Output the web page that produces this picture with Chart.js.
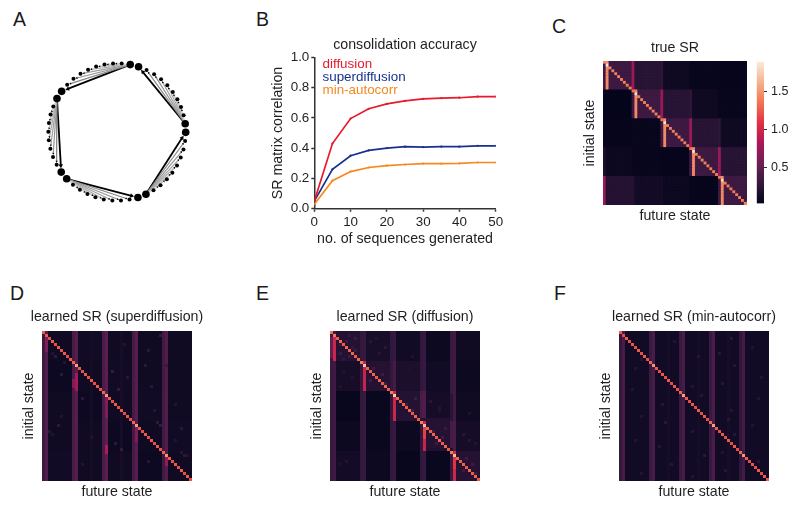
<!DOCTYPE html>
<html><head><meta charset="utf-8">
<script src="https://cdn.jsdelivr.net/npm/chart.js@4"></script>
<style>
html,body{margin:0;padding:0;background:#fff;width:800px;height:509px;overflow:hidden}
canvas{position:absolute;filter:blur(0.4px)}
.letter{position:absolute;font:19.5px "Liberation Sans",Arial,sans-serif;color:#1a1a1a;line-height:20px}
</style></head><body>
<script>
// ---------- data ----------
const panelLetters = ['A','B','C','D','E','F'];
const letterX = [13,256,552,10,256,554];
const letterY = [9,9,16,283,283,283];

// panel A: ring of 50 states (angle in degrees, counter-clockwise from east)
const nodeAngles = [-0.3,6.9,14.1,21.3,28.5,35.7,42.9,50.1,57.3,64.5,71.7,78.9,86.1,93.3,100.5,107.7,114.9,122.1,129.3,136.5,143.7,150.9,158.1,165.3,172.5,179.7,186.9,194.1,201.3,208.5,215.7,222.9,230.1,237.3,244.5,251.7,258.9,266.1,273.3,280.5,287.7,294.9,302.1,309.3,316.5,323.7,330.9,338.1,345.3,352.5];
const hubNodes = [0,1,10,11,20,21,30,31,40,41];
const edgeFrom = [1,1,1,1,1,1,1,1, 11,11,11,11,11,11,11,11, 21,21,21,21,21,21,21,21, 31,31,31,31,31,31,31,31, 41,41,41,41,41,41,41,41];
const edgeTo   = [3,4,5,6,7,8,9,10, 13,14,15,16,17,18,19,20, 23,24,25,26,27,28,29,30, 33,34,35,36,37,38,39,40, 43,44,45,46,47,48,49,0];
const edgeGrey = [215,200,185,170,160,150,135,0, 215,200,185,170,160,150,135,0, 215,200,185,170,160,150,135,0, 215,200,185,170,160,150,135,0, 215,200,185,170,160,150,135,0];

// panel B
const seqCounts = [0,5,10,15,20,25,30,35,40,45,50];
const diffusionAcc = [0.05,0.43,0.595,0.66,0.692,0.712,0.725,0.73,0.733,0.74,0.74];
const superdiffusionAcc = [0.05,0.26,0.35,0.385,0.4,0.41,0.407,0.41,0.41,0.415,0.415];
const minAutocorrAcc = [0.03,0.185,0.245,0.272,0.285,0.292,0.298,0.298,0.3,0.305,0.305];
const seriesNames = ['diffusion','superdiffusion','min-autocorr'];
const seriesColors = ['#e8192c','#17318f','#f7871e'];
const yTicksB = [0,0.2,0.4,0.6,0.8,1.0];
const colorbarTicks = [0.5,1.0,1.5];

// heatmaps: 5x5 module levels, then [row0,row1,col0,col1,value] patches, diagonal, then [row,col,value] spots
const trueBlocks = [[.33,.22,.09,.05,.04],[.03,.33,.22,.09,.05],[.04,.05,.33,.22,.09],[.07,.05,.04,.33,.22],[.2,.11,.07,.04,.33]];
const truePatches = [[0,9,10,10,.75],[10,19,20,20,.75],[20,29,30,30,.75],[30,39,40,40,.75],[40,49,0,0,.75],
 [0,9,20,20,.25],[10,19,30,30,.25],[20,29,40,40,.25],[30,39,0,0,.16],[40,49,10,10,.2],[40,49,20,20,.12],
 [0,9,1,1,1.45],[10,19,11,11,1.45],[20,29,21,21,1.45],[30,39,31,31,1.45],[40,49,41,41,1.45]];
const trueDiag = [1.45,1.9,1.4,1.4,1.4,1.4,1.4,1.4,1.4,1.4, 1.35,1.85,1.4,1.4,1.4,1.4,1.4,1.4,1.4,1.4, 1.35,1.85,1.4,1.4,1.4,1.4,1.4,1.4,1.4,1.4, 1.35,1.85,1.4,1.4,1.4,1.4,1.4,1.4,1.4,1.4, 1.35,1.85,1.4,1.4,1.4,1.4,1.4,1.4,1.4,1.4];
const trueSpots = [];

const superBlocks = [[.09,.1,.09,.09,.09],[.08,.09,.1,.09,.09],[.09,.08,.09,.1,.09],[.09,.09,.08,.09,.1],[.1,.09,.09,.08,.09]];
const superPatches = [[0,49,0,0,.32],[0,49,1,1,.42],[0,49,10,10,.38],[0,49,11,11,.45],[0,49,20,20,.38],[0,49,21,21,.47],[0,49,30,30,.36],[0,49,31,31,.45],[0,49,40,40,.34],[0,49,41,41,.43],
 [2,6,1,1,.62],[14,19,11,11,.8],[16,18,10,10,.62],[22,28,21,21,.62],[38,40,21,21,.85],[32,36,31,31,.62],[41,44,41,41,.72],[0,49,26,26,.13],[0,49,16,16,.12]];
const superDiag = [1.25,1.25,1.2,1.25,1.2,1.25,1.2,1.25,1.2,1.25,1.3,1.55,1.25,1.2,1.25,1.2,1.25,1.2,1.25,1.2,1.3,1.55,1.25,1.2,1.25,1.2,1.25,1.2,1.25,1.2,1.3,1.55,1.25,1.2,1.25,1.2,1.25,1.2,1.25,1.2,1.3,1.5,1.25,1.2,1.25,1.2,1.25,1.2,1.25,1.2];
const superSpots = [[8,4,.28],[7,3,.2],[14,6,.26],[13,23,.3],[19,25,.28],[6,35,.24],[1,39,.28],[11,41,.3],[31,5,.26],[33,2,.22],[34,3,.2],[32,46,.24],[31,39,.3],[30,38,.26],[39,26,.3],[40,46,.22],[41,47,.24],[41,48,.2],[37,24,.26],[18,36,.24],[22,13,.24],[11,34,.24],[26,37,.22],[28,6,.2],[24,44,.2],[35,16,.2],[44,13,.2],[15,28,.22],[4,27,.2],[10,7,.2],[43,35,.22],[36,44,.2]];

const diffBlocks = [[.2,.14,.1,.07,.09],[.13,.2,.15,.1,.07],[.05,.06,.19,.12,.09],[.07,.06,.07,.2,.12],[.11,.07,.05,.06,.2]];
const diffPatches = [[0,49,0,0,.3],[0,49,1,1,.34],[0,49,10,10,.27],[0,49,11,11,.29],[0,49,20,20,.27],[0,49,21,21,.29],[0,49,30,30,.27],[0,49,31,31,.29],[0,49,40,40,.3],[0,49,41,41,.34],
 [20,29,31,31,.42],[20,29,30,30,.38],[30,39,41,41,.38],[30,39,40,40,.36],[10,19,21,21,.36],
 [1,9,1,1,.98],[10,19,11,11,.95],[20,29,21,21,.98],[30,39,31,31,.95],[40,49,41,41,.98],[32,35,31,31,1.15],[41,45,41,41,1.1],[2,8,0,0,.5],
 [29,29,22,40,.2],[21,29,40,40,.22],[39,39,32,40,.17]];
const diffDiag = [1.35,1.4,1.25,1.3,1.25,1.3,1.25,1.3,1.25,1.3,1.4,1.7,1.3,1.25,1.3,1.25,1.3,1.25,1.3,1.25,1.4,1.75,1.3,1.25,1.3,1.25,1.3,1.25,1.3,1.25,1.4,1.7,1.3,1.25,1.3,1.25,1.3,1.25,1.3,1.25,1.4,1.7,1.3,1.25,1.3,1.25,1.3,1.25,1.3,1.25];
const diffSpots = [[3,5,.3],[5,7,.28],[2,8,.32],[7,3,.3],[8,6,.3],[1,6,.27],[4,3,.27],[6,8,.32],[9,4,.28],[3,13,.22],[7,16,.22],[5,18,.24],[2,15,.2],[12,14,.32],[14,17,.32],[16,13,.34],[17,18,.32],[13,4,.2],[15,7,.2],[18,3,.2],[22,28,.32],[24,25,.3],[26,27,.32],[23,33,.22],[25,36,.2],[33,34,.32],[35,37,.34],[37,35,.32],[32,38,.3],[36,46,.22],[34,44,.22],[37,48,.2],[42,45,.32],[44,47,.34],[46,44,.32],[47,48,.3],[43,5,.2],[44,3,.18],[26,36,.2],[27,46,.18],[8,27,.18],[12,26,.18]];

const minBlocks = [[.1,.1,.1,.1,.1],[.1,.1,.1,.1,.1],[.1,.1,.1,.1,.1],[.1,.1,.1,.1,.1],[.1,.1,.1,.1,.1]];
const minPatches = [[0,49,0,0,.28],[0,49,1,1,.38],[0,49,10,10,.3],[0,49,11,11,.38],[0,49,20,20,.3],[0,49,21,21,.38],[0,49,30,30,.3],[0,49,31,31,.4],[0,49,40,40,.26],[0,49,41,41,.36],[0,49,16,16,.13],[0,49,26,26,.13],[0,49,36,36,.13]];
const minDiag = [1.25,1.2,1.25,1.2,1.25,1.2,1.25,1.2,1.25,1.2,1.3,1.5,1.25,1.2,1.25,1.2,1.25,1.2,1.25,1.2,1.3,1.55,1.25,1.2,1.25,1.2,1.25,1.2,1.25,1.2,1.3,1.55,1.25,1.2,1.25,1.2,1.25,1.2,1.25,1.2,1.3,1.5,1.25,1.2,1.25,1.2,1.25,1.2,1.25,1.25];
const minSpots = [[3,18,.2],[8,26,.22],[12,5,.2],[17,34,.22],[5,44,.2],[2,37,.24],[9,7,.2],[14,14,.24],[19,4,.2],[21,27,.22],[24,14,.22],[26,37,.22],[22,46,.2],[28,7,.2],[30,15,.24],[33,24,.22],[36,5,.2],[34,38,.22],[38,13,.22],[41,28,.24],[44,17,.22],[46,35,.22],[43,46,.22],[47,7,.2],[48,24,.2],[40,34,.2],[15,47,.2],[11,38,.22],[7,33,.22],[31,44,.2],[29,36,.24],[18,24,.2]];

// ---------- helpers ----------
const rocketStops = ['#03051a','#35193e','#701f57','#ad1759','#e13342','#f37651','#f6b48f','#faebdd'];
const srMin = 0.02, srMax = 1.9;
const FONT = '"Liberation Sans",Arial,sans-serif';
const TEXT = '#1f1f1f';
function hex(c){return [1,3,5].map(i=>parseInt(c.substr(i,2),16));}
function rocket(v){
  const t=Math.min(1,Math.max(0,(v-srMin)/(srMax-srMin)))*7, i=Math.min(6,Math.floor(t)), f=t-i;
  const a=hex(rocketStops[i]), b=hex(rocketStops[i+1]);
  return 'rgb('+a.map((x,k)=>Math.round(x+(b[k]-x)*f)).join(',')+')';
}
function buildCells(blocks,patches,diag,spots){
  const m=[];
  for(let r=0;r<50;r++){m.push([]);for(let c=0;c<50;c++)m[r].push(blocks[Math.floor(r/10)][Math.floor(c/10)]);}
  patches.forEach(p=>{for(let r=p[0];r<=p[1];r++)for(let c=p[2];c<=p[3];c++)m[r][c]=p[4];});
  spots.forEach(s=>{m[s[0]][s[1]]=s[2];});
  diag.forEach((v,i)=>{m[i][i]=v;});
  const cells=[];
  for(let r=0;r<50;r++)for(let c=0;c<50;c++)cells.push({x:c,y:r,v:m[r][c]});
  return cells;
}
function addCanvas(l,t,w,h){
  const c=document.createElement('canvas');
  c.width=w;c.height=h;c.style.left=l+'px';c.style.top=t+'px';c.style.width=w+'px';c.style.height=h+'px';
  document.body.appendChild(c);return c.getContext('2d');
}
Chart.defaults.animation=false;
Chart.defaults.responsive=false;
Chart.defaults.font.family=FONT;
Chart.defaults.color=TEXT;

function frame(box,W,topH,botH){
  const m=W+6, l=Math.floor(box.l-m), t=Math.floor(box.t-topH);
  const w=Math.ceil(box.r+m)-l, h=Math.ceil(box.b+botH)-t;
  return {l,t,w,h,padding:{left:box.l-W-l,top:box.t-topH-t,right:w-(box.r-l)-W,bottom:h-(box.b-t)-botH}};
}
function hiddenSide(W){return {position:'right',display:true,grid:{display:false},border:{display:false},ticks:{display:false},afterFit:s=>{s.width=W;}};}
const backdrop={id:'backdrop',beforeDatasetsDraw(c){const a=c.chartArea;c.ctx.save();c.ctx.fillStyle=rocket(0.05);c.ctx.fillRect(a.left,a.top,a.width,a.height);c.ctx.restore();}};

function heatmap(box,title,cells,pad){
  const fs=14.2, lh=fs*1.2, W=13+lh/2, botH=11+lh/2, topH=lh+pad;
  const f=frame(box,W,topH,botH);
  const cell=(box.r-box.l)/50, side=Number.isInteger(cell)?cell:cell+0.5, radius=side*Math.SQRT1_2;
  new Chart(addCanvas(f.l,f.t,f.w,f.h),{
    type:'scatter',plugins:[backdrop],
    data:{datasets:[{data:cells,showLine:false,pointStyle:'rect',pointRadius:radius,pointBorderWidth:0,pointHoverRadius:radius,
      pointBackgroundColor:cells.map(d=>rocket(d.v))}]},
    options:{layout:{padding:f.padding,autoPadding:false},events:[],
      plugins:{legend:{display:false},tooltip:{enabled:false},
        title:{display:true,text:title,color:TEXT,font:{size:fs,weight:'normal'},padding:{top:0,bottom:pad}}},
      scales:{
        x:{type:'linear',min:-0.5,max:49.5,position:'bottom',grid:{display:false},border:{display:false},ticks:{display:false},
           title:{display:true,text:'future state',color:TEXT,font:{size:fs},padding:0},afterFit:s=>{s.height=botH;}},
        y:{type:'linear',min:-0.5,max:49.5,reverse:true,position:'left',grid:{display:false},border:{display:false},ticks:{display:false},
           title:{display:true,text:'initial state',color:TEXT,font:{size:fs},padding:0},afterFit:s=>{s.width=W;}},
        y2:hiddenSide(W)
      }}
  });
}

// ---------- panel letters ----------
panelLetters.forEach((t,i)=>{const d=document.createElement('div');d.className='letter';d.textContent=t;d.style.left=letterX[i]+'px';d.style.top=letterY[i]+'px';document.body.appendChild(d);});

// ---------- panel A ----------
(function(){
  const cx=117, cy=132, half=85, span=half/68.7;
  const pos=i=>{const a=nodeAngles[i]*Math.PI/180;return {x:Math.cos(a),y:Math.sin(a)};};
  const sets=[{data:nodeAngles.map((_,i)=>pos(i)),showLine:false,pointBackgroundColor:'#000',pointBorderWidth:0,
      pointRadius:nodeAngles.map((_,i)=>hubNodes.includes(i)?3.8:2)}];
  edgeFrom.forEach((from,e)=>{
    const a=pos(from),b=pos(edgeTo[e]),dx=b.x-a.x,dy=b.y-a.y,len=Math.hypot(dx,dy);
    const back=(edgeGrey[e]===0?0.095:0.05)/len;
    const tip={x:b.x-dx*back,y:b.y-dy*back};
    const g=edgeGrey[e];
    sets.push({data:[a,tip],showLine:true,borderColor:`rgb(${g},${g},${g})`,borderWidth:g===0?1.8:1.2,
      pointStyle:'triangle',pointRadius:[0,g===0?2.6:1.3],pointBorderWidth:0,pointBackgroundColor:'#000',
      pointRotation:90-Math.atan2(dy,dx)*180/Math.PI});
  });
  new Chart(addCanvas(cx-half,cy-half,half*2,half*2),{
    type:'scatter',data:{datasets:sets},
    options:{layout:{autoPadding:false},events:[],plugins:{legend:{display:false},tooltip:{enabled:false}},
      scales:{x:{min:-span,max:span,display:false},y:{min:-span,max:span,display:false}}}
  });
})();

// ---------- panel B ----------
(function(){
  const box={l:314.3,t:57.3,r:495.7,b:208.7};
  const fs=14.2, lh=fs*1.2, W=36+lh/2, botH=30.3+lh/2, pad=4.1, topH=lh+pad;
  const f=frame(box,W,topH,botH);
  const series=[diffusionAcc,superdiffusionAcc,minAutocorrAcc];
  new Chart(addCanvas(f.l,f.t,f.w,f.h),{
    type:'scatter',
    data:{datasets:series.map((vals,i)=>({label:seriesNames[i],data:seqCounts.map((x,k)=>({x,y:vals[k]})),showLine:true,
      borderColor:seriesColors[i],backgroundColor:seriesColors[i],borderWidth:1.7,pointRadius:1.1,pointBorderWidth:0,tension:0}))},
    options:{layout:{padding:f.padding},events:[],
      plugins:{tooltip:{enabled:false},
        title:{display:true,text:'consolidation accuracy',color:TEXT,font:{size:fs,weight:'normal'},padding:{top:0,bottom:pad}},
        legend:{position:'chartArea',align:'start',
          title:{display:true,text:'',padding:{top:0,bottom:20.3},font:{size:1,lineHeight:1}},
          labels:{boxWidth:1.5,padding:0,font:{size:13.4,lineHeight:13.7/13.4},
          generateLabels:c=>c.data.datasets.map(d=>({text:d.label,fontColor:d.borderColor,fillStyle:'rgba(0,0,0,0)',strokeStyle:'rgba(0,0,0,0)',lineWidth:0,hidden:false}))}}},
      scales:{
        x:{type:'linear',min:0,max:50,grid:{drawOnChartArea:false,tickLength:3,tickWidth:1.5,tickColor:'#333'},border:{color:'#333',width:1.5},
           ticks:{stepSize:10,font:{size:13.4},color:TEXT,padding:3,maxRotation:0},
           title:{display:true,text:'no. of sequences generated',color:TEXT,font:{size:fs},padding:0},afterFit:s=>{s.height=botH;}},
        y:{type:'linear',min:0,max:1,grid:{drawOnChartArea:false,tickLength:3,tickWidth:1.5,tickColor:'#333'},border:{color:'#333',width:1.5},
           afterBuildTicks:s=>{s.ticks=yTicksB.map(v=>({value:v}));},
           ticks:{font:{size:13.4},color:TEXT,padding:2,callback:v=>v.toFixed(1)},
           title:{display:true,text:'SR matrix correlation',color:TEXT,font:{size:fs},padding:0},afterFit:s=>{s.width=W;}},
        y2:hiddenSide(W)
      }}
  });
})();

// ---------- heatmaps ----------
heatmap({l:603,t:61,r:747,b:205},'true SR',buildCells(trueBlocks,truePatches,trueDiag,trueSpots),4.5);
heatmap({l:42,t:331,r:192,b:481},'learned SR (superdiffusion)',buildCells(superBlocks,superPatches,superDiag,superSpots),5.5);
heatmap({l:330,t:331,r:480,b:481},'learned SR (diffusion)',buildCells(diffBlocks,diffPatches,diffDiag,diffSpots),5.5);
heatmap({l:619,t:331,r:769,b:481},'learned SR (min-autocorr)',buildCells(minBlocks,minPatches,minDiag,minSpots),5.5);

// ---------- colour bar ----------
(function(){
  const l=750,t=50,w=50,h=165;
  new Chart(addCanvas(l,t,w,h),{
    type:'bar',
    data:{labels:['SR'],datasets:[{data:[[srMin,srMax]],barPercentage:1,categoryPercentage:1,borderWidth:0,
      backgroundColor:c=>{const a=c.chart.chartArea;if(!a)return '#000';const g=c.chart.ctx.createLinearGradient(0,a.bottom,0,a.top);rocketStops.forEach((s,i)=>g.addColorStop(i/7,s));return g;}}]},
    options:{layout:{padding:{left:6.7,right:0,top:7.3,bottom:6.3}},events:[],
      plugins:{legend:{display:false},tooltip:{enabled:false}},
      scales:{
        x:{display:false},
        y:{position:'right',min:srMin,max:srMax,grid:{drawOnChartArea:false,tickLength:3,tickWidth:1,tickColor:'#333'},border:{display:false},
           afterBuildTicks:s=>{s.ticks=colorbarTicks.map(v=>({value:v}));},
           ticks:{font:{size:12.5},color:TEXT,padding:4,callback:v=>v.toFixed(1)},afterFit:s=>{s.width=36;}}
      }}
  });
})();
</script>
</body></html>
